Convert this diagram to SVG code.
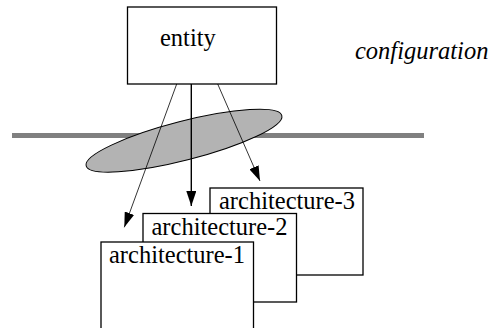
<svg xmlns="http://www.w3.org/2000/svg" width="496" height="328" viewBox="0 0 496 328">
<style>
.box{fill:#fff;stroke:#000;stroke-width:1.3}
.lbl{font-family:'Liberation Serif','Times New Roman',Times,'DejaVu Serif',serif;font-size:24.5px;fill:#000}
.thin{stroke:#000;stroke-width:0.8;fill:none}
.thick{stroke:#000;stroke-width:1.4;fill:none}
</style>
<defs>
<marker id="ah" markerUnits="userSpaceOnUse" markerWidth="16" markerHeight="10" refX="15" refY="5" orient="auto">
<path d="M0,0 L15,5 L0,10 Z" fill="#000"/>
</marker>
</defs>
<rect width="496" height="328" fill="#fff"/>
<g id="entity">
<rect class="box" x="127.5" y="7" width="149" height="77"/>
<text class="lbl" x="160" y="46" font-family="Liberation Serif, serif">entity</text>
</g>
<g id="configuration">
<text class="lbl" x="355" y="59" font-style="italic" font-family="Liberation Serif, serif">configuration</text>
</g>
<g id="boundary">
<rect x="12" y="133" width="412" height="5" fill="#808080"/>
<ellipse cx="184" cy="140.7" rx="101" ry="19.5" transform="rotate(-14.4 184 140.7)" fill="#b3b3b3" stroke="#000" stroke-width="1"/>
</g>
<g id="architecture-3">
<rect class="box" x="210" y="188" width="153" height="87"/>
<text class="lbl" x="219" y="209" font-family="Liberation Serif, serif">architecture-3</text>
</g>
<g id="architecture-2">
<rect class="box" x="143" y="213.5" width="153.5" height="88.5"/>
<text class="lbl" x="151.5" y="235" font-family="Liberation Serif, serif">architecture-2</text>
</g>
<g id="architecture-1">
<rect class="box" x="101" y="242" width="152.5" height="100"/>
<text class="lbl" x="109" y="263" font-family="Liberation Serif, serif">architecture-1</text>
</g>
<g id="connectors">
<line class="thin" x1="176.7" y1="84" x2="124.3" y2="227.3" marker-end="url(#ah)"/>
<line class="thick" x1="191.3" y1="84" x2="191.3" y2="206" marker-end="url(#ah)"/>
<line class="thin" x1="217.7" y1="84" x2="260" y2="181" marker-end="url(#ah)"/>
</g>
</svg>
